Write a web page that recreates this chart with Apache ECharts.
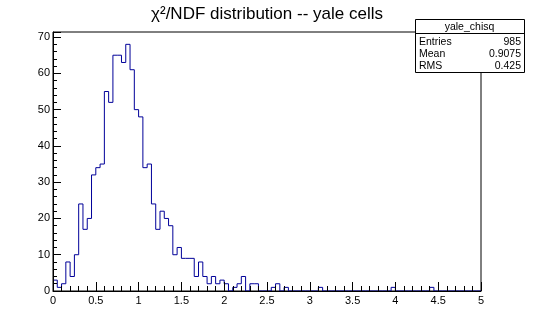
<!DOCTYPE html>
<html>
<head>
<meta charset="utf-8">
<script src="https://cdn.jsdelivr.net/npm/echarts@6/dist/echarts.min.js"></script>
<style>
html,body{margin:0;padding:0;background:#fff;}
#chart{width:534px;height:323px;}
</style>
</head>
<body>
<div id="chart"></div>
<script>
// ---- data ----
const titleText = "\u03C7\u00B2/NDF distribution -- yale cells";
const xMin = 0, xMax = 5, binWidth = 0.05;
const counts = [
  3, 1, 2, 8, 4, 10, 24, 17, 20, 32,
  34, 35, 55, 52, 65, 65, 63, 68, 61, 50,
  48, 34, 35, 24, 17, 22, 20, 18, 10, 12,
  9, 9, 9, 4, 8, 4, 2, 4, 2, 3,
  2, 0, 1, 2, 4, 0, 2, 2, 0, 0,
  0, 1, 2, 0, 1, 0, 0, 0, 0, 0,
  0, 0, 1, 0, 0, 0, 0, 0, 0, 0,
  0, 0, 0, 0, 0, 0, 0, 0, 0, 1,
  0, 0, 0, 0, 0, 0, 0, 0, 1, 0,
  0, 0, 0, 0, 0, 0, 0, 0, 0, 0
];
const yMaxAxis = 71.4;
const statsName = "yale_chisq";
const statsLabels = ["Entries", "Mean", "RMS"];
const statsValues = ["985", "0.9075", "0.425"];

// ---- build step outline from bin edges ----
const stepData = [];
for (let i = 0; i < counts.length; i++) {
  stepData.push([xMin + i * binWidth, counts[i]]);
}
stepData.push([xMax, counts[counts.length - 1]]);

const FONT = "'Liberation Sans', Arial, Helvetica, sans-serif";
const chart = echarts.init(document.getElementById('chart'), null, {renderer: 'canvas'});

// stats box graphics
const boxL = 415, boxR = 524, boxT = 19, boxB = 72, sepY = 33;
const rowY = [42, 54, 66];
const gfx = [
  {type: 'rect', shape: {x: boxL + 0.5, y: boxT + 0.5, width: boxR - boxL, height: boxB - boxT},
   style: {fill: '#fff', stroke: '#000', lineWidth: 1}, z: 100},
  {type: 'line', shape: {x1: boxL, y1: sepY + 0.5, x2: boxR, y2: sepY + 0.5},
   style: {stroke: '#000', lineWidth: 1}, z: 101},
  {type: 'text', x: (boxL + boxR) / 2, y: (boxT + sepY) / 2 + 1,
   style: {text: statsName, font: '10.5px ' + FONT, fill: '#000', align: 'center', verticalAlign: 'middle'}, z: 102}
];
statsLabels.forEach((lab, i) => {
  gfx.push({type: 'text', x: boxL + 4, y: rowY[i],
    style: {text: lab, font: '10.5px ' + FONT, fill: '#000', align: 'left', verticalAlign: 'middle'}, z: 102});
  gfx.push({type: 'text', x: boxR - 3, y: rowY[i],
    style: {text: statsValues[i], font: '10.5px ' + FONT, fill: '#000', align: 'right', verticalAlign: 'middle'}, z: 102});
});

chart.setOption({
  animation: false,
  backgroundColor: '#fff',
  title: {
    text: titleText,
    left: 'center',
    top: 1,
    textStyle: {fontFamily: FONT, fontSize: 17, fontWeight: 'normal', color: '#000'}
  },
  grid: {left: 53, right: 53, top: 32, bottom: 32, show: true, borderColor: '#000', borderWidth: 1, backgroundColor: 'transparent'},
  xAxis: {
    type: 'value', min: xMin, max: xMax, interval: 0.5, z: 5,
    axisLine: {show: true, onZero: false, lineStyle: {color: '#000', width: 1}},
    axisTick: {show: true, inside: true, length: 9, lineStyle: {color: '#000'}},
    minorTick: {show: true, splitNumber: 5, length: 5, lineStyle: {color: '#000'}},
    splitLine: {show: false},
    axisLabel: {show: true, margin: 4, color: '#000', fontFamily: FONT, fontSize: 11,
      formatter: v => String(Math.round(v * 10) / 10)}
  },
  yAxis: {
    type: 'value', min: 0, max: yMaxAxis, interval: 10, z: 5,
    axisLine: {show: true, lineStyle: {color: '#000', width: 1}},
    axisTick: {show: true, inside: true, length: 8, lineStyle: {color: '#000'}},
    minorTick: {show: true, splitNumber: 5, length: 4, lineStyle: {color: '#000'}},
    splitLine: {show: false},
    axisLabel: {show: true, margin: 3, color: '#000', fontFamily: FONT, fontSize: 11, showMaxLabel: false,
      formatter: v => (v % 10 === 0 ? String(v) : '')}
  },
  series: [{
    type: 'line',
    step: 'end',
    data: stepData,
    symbol: 'none',
    z: 2,
    lineStyle: {color: '#000099', width: 1},
    clip: true
  }],
  graphic: gfx
});
</script>
</body>
</html>
